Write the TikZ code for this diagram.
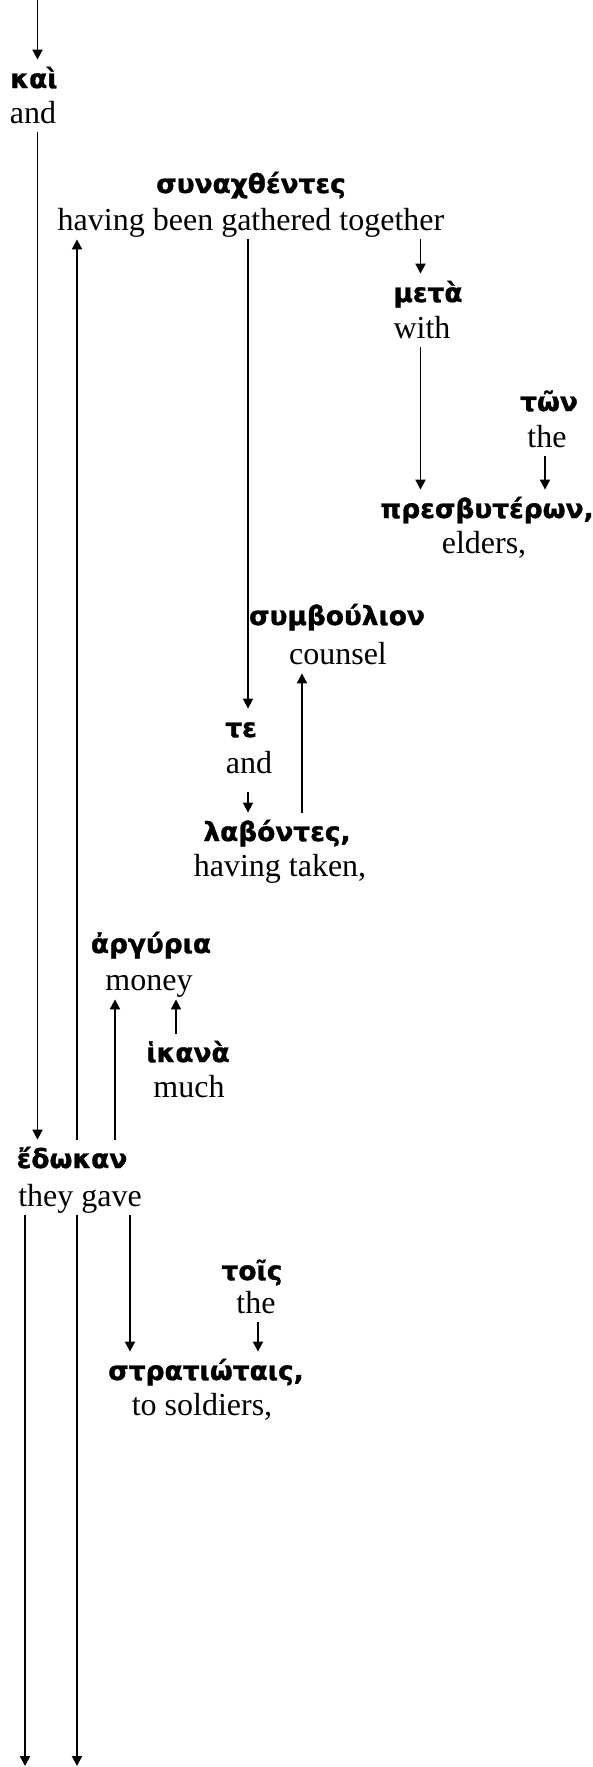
\documentclass[tikz,border=0pt]{standalone}
\usepackage{fontspec}
\setmainfont{Liberation Serif}
\newfontfamily\gkfont{DejaVu Sans}[BoldFeatures={FakeBold=1.2}]
\usetikzlibrary{arrows.meta}
\begin{document}
\begin{tikzpicture}[x=0.5pt,y=-0.5pt,
  en/.style={font=\fontsize{16}{19}\selectfont, inner sep=0pt, text height=11pt, text depth=4.5pt, anchor=base},
  gk/.style={font=\gkfont\bfseries\fontsize{13.2}{16}\selectfont, inner sep=0pt, text height=14pt, text depth=3pt, anchor=base},
  arr/.style={-{Triangle[length=5pt,width=5pt]}, line width=0.95pt}]
\useasboundingbox (0,0) rectangle (593,1767);

% words
\node[gk] (g-kai) at (34,88) {καὶ};
\node[en] (e-kai) at (33,123) {and};
\node[gk] (g-syn) at (251,193) {συναχθέντες};
\node[en] (e-syn) at (251,230) {having been gathered together};
\node[gk] (g-meta) at (428,302) {μετὰ};
\node[en] (e-meta) at (422,338) {with};
\node[gk] (g-ton) at (549,411) {τῶν};
\node[en] (e-ton) at (547,447) {the};
\node[gk] (g-presb) at (487,518) {πρεσβυτέρων,};
\node[en] (e-presb) at (484,553) {elders,};
\node[gk] (g-symb) at (337,625) {συμβούλιον};
\node[en] (e-symb) at (338,664) {counsel};
\node[gk] (g-te) at (241,737) {τε};
\node[en] (e-te) at (249,773) {and};
\node[gk] (g-lab) at (277,841) {λαβόντες,};
\node[en] (e-lab) at (280,876) {having taken,};
\node[gk] (g-arg) at (151,953) {ἀργύρια};
\node[en] (e-arg) at (149,990) {money};
\node[gk] (g-hik) at (188,1062) {ἱκανὰ};
\node[en] (e-hik) at (189,1097) {much};
\node[gk] (g-edo) at (72,1168) {ἔδωκαν};
\node[en] (e-edo) at (80,1206) {they gave};
\node[gk] (g-tois) at (252,1280) {τοῖς};
\node[en] (e-tois) at (256,1313) {the};
\node[gk] (g-strat) at (206,1380) {στρατιώταις,};
\node[en] (e-strat) at (202,1415) {to soldiers,};

% columns
\coordinate (top) at (37.5,0);
\coordinate (cA) at (37.5,0);
\coordinate (cB) at (77,0);
\coordinate (cC) at (248,0);
\coordinate (cD) at (420.5,0);
\coordinate (cE) at (545,0);
\coordinate (cF) at (302,0);
\coordinate (cG) at (115,0);
\coordinate (cH) at (176,0);
\coordinate (cI) at (130,0);
\coordinate (cJ) at (258,0);
\coordinate (bot1) at (25,1766);
\coordinate (bot2) at (77,1766);

% connectors
\draw[arr] (top) -- (g-kai.north -| top);
\draw[arr] (e-kai.south -| cA) -- (g-edo.north -| cA);
\draw[arr] (g-edo.north -| cB) -- (e-syn.south -| cB);
\draw[arr] (e-syn.south -| cC) -- (g-te.north -| cC);
\draw[arr] (e-syn.south -| cD) -- (g-meta.north -| cD);
\draw[arr] (e-meta.south -| cD) -- (g-presb.north -| cD);
\draw[arr] (e-ton.south -| cE) -- (g-presb.north -| cE);
\draw[arr, shorten <=5pt] (e-te.south -| cC) -- (g-lab.north -| cC);
\draw[arr] (g-lab.north -| cF) -- (e-symb.south -| cF);
\draw[arr] (g-edo.north -| cG) -- (e-arg.south -| cG);
\draw[arr] (g-hik.north -| cH) -- (e-arg.south -| cH);
\draw[arr] (e-edo.south -| bot1) -- (bot1);
\draw[arr] (e-edo.south -| bot2) -- (bot2);
\draw[arr] (e-edo.south -| cI) -- (g-strat.north -| cI);
\draw[arr] (e-tois.south -| cJ) -- (g-strat.north -| cJ);
\end{tikzpicture}
\end{document}
